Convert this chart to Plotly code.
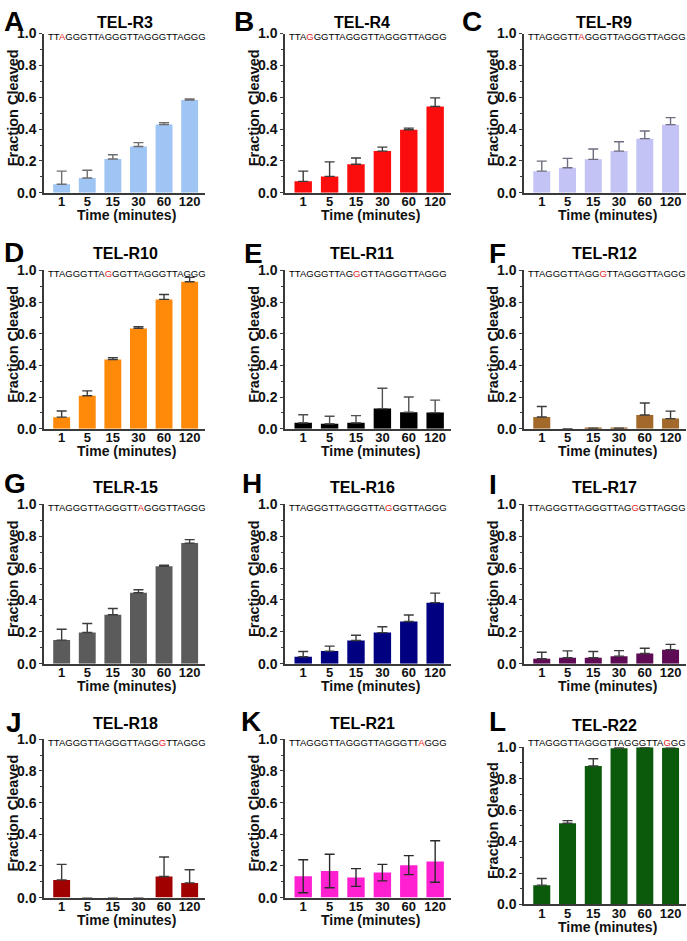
import plotly.graph_objects as go

# ---------------- data ----------------
times = ["1", "5", "15", "30", "60", "120"]
panel_letters = ["A", "B", "C", "D", "E", "F", "G", "H", "I", "J", "K", "L"]
titles = ["TEL-R3", "TEL-R4", "TEL-R9", "TEL-R10", "TEL-R11", "TEL-R12",
          "TELR-15", "TEL-R16", "TEL-R17", "TEL-R18", "TEL-R21", "TEL-R22"]
base_seq = "TTAGGGTTAGGGTTAGGGTTAGGG"
mutation_pos = [2, 3, 8, 9, 10, 11, 14, 15, 16, 17, 20, 21]
bar_colors = ["#9ec5f4", "#fb0d0d", "#c3c3f6", "#ff8a0a", "#000000", "#a2692b",
              "#5b5b5b", "#000080", "#5e0a55", "#a00000", "#ff20d2", "#0b5a0b"]
err_colors = ["#6e6e6e", "#3c3c3c", "#6e6e80", "#3c3c3c", "#505050", "#3c3c3c",
              "#3c3c3c", "#3c3c3c", "#3c3c3c", "#3c3c3c", "#2a2a2a", "#3c3c3c"]

r3_mean = [0.054, 0.093, 0.212, 0.291, 0.429, 0.583]
r3_err = [0.082, 0.049, 0.027, 0.024, 0.012, 0.006]
r4_mean = [0.072, 0.103, 0.179, 0.262, 0.396, 0.542]
r4_err = [0.064, 0.091, 0.040, 0.025, 0.010, 0.054]
r9_mean = [0.136, 0.157, 0.210, 0.262, 0.340, 0.428]
r9_err = [0.063, 0.059, 0.065, 0.059, 0.048, 0.044]
r10_mean = [0.073, 0.208, 0.437, 0.634, 0.817, 0.929]
r10_err = [0.039, 0.031, 0.012, 0.010, 0.031, 0.027]
r11_mean = [0.038, 0.031, 0.038, 0.127, 0.104, 0.102]
r11_err = [0.050, 0.048, 0.045, 0.129, 0.096, 0.079]
r12_mean = [0.074, 0.0, 0.003, 0.003, 0.087, 0.064]
r12_err = [0.066, None, None, None, 0.076, 0.047]
r15_mean = [0.148, 0.196, 0.307, 0.445, 0.612, 0.757]
r15_err = [0.068, 0.056, 0.039, 0.019, 0.007, 0.022]
r16_mean = [0.043, 0.079, 0.145, 0.195, 0.265, 0.383]
r16_err = [0.033, 0.031, 0.033, 0.037, 0.041, 0.060]
r17_mean = [0.031, 0.037, 0.037, 0.047, 0.064, 0.088]
r17_err = [0.041, 0.043, 0.039, 0.035, 0.033, 0.033]
r18_mean = [0.112, 0.0, 0.0, 0.0, 0.133, 0.093]
r18_err = [0.098, None, None, None, 0.124, 0.083]
r21_mean = [0.135, 0.168, 0.127, 0.158, 0.205, 0.228]
r21_err = [0.104, 0.106, 0.056, 0.052, 0.060, 0.131]
r22_mean = [0.123, 0.517, 0.881, 0.994, 1.0, 0.996]
r22_err = [0.042, 0.016, 0.046, 0.005, None, None]

means = [r3_mean, r4_mean, r9_mean, r10_mean, r11_mean, r12_mean,
         r15_mean, r16_mean, r17_mean, r18_mean, r21_mean, r22_mean]
errs = [r3_err, r4_err, r9_err, r10_err, r11_err, r12_err,
        r15_err, r16_err, r17_err, r18_err, r21_err, r22_err]
two_sided = [False] * 10 + [True, False]

# ---------------- layout geometry (pixels) ----------------
W, H = 687, 941
col_x = [(44, 205), (285, 451), (524, 686)]
row_y = [(26, 188), (267, 428), (505, 667), (744, 905)]
title_x = [125, 362, 604]
title_y = [15, 250, 488, 728]
letter_pos = [(2, 14), (232, 14), (460, 14), (2, 249), (242, 250), (487, 250),
              (2, 484), (240, 484), (487, 485), (4, 727), (239, 726), (487, 726)]

FONT = "Liberation Sans, Arial, Helvetica, sans-serif"
TXT = "#111111"
AX = "#3a3a3a"


def px(x):
    return x / W


def py(y):
    return 1 - y / H


fig = go.Figure()
annotations = []
layout_axes = {}

for i in range(12):
    r, c = divmod(i, 3)
    x0, x1 = col_x[c]
    y0, y1 = row_y[r]
    tx, ty = title_x[c], title_y[r]
    seq_dy = 3
    if i == 11:
        y0, y1 = 752, 912
        ty = 730
        seq_dy = -5
    ax_id = "" if i == 0 else str(i + 1)
    xa, ya = "x" + ax_id, "y" + ax_id

    err = errs[i]
    ed = dict(type="data", array=err, visible=True, color=err_colors[i],
              thickness=1.4, width=5)
    if two_sided[i]:
        ed["symmetric"] = True
    else:
        ed["symmetric"] = False
        ed["arrayminus"] = [0 if e is not None else None for e in err]

    fig.add_trace(go.Bar(
        x=times, y=means[i], xaxis=xa, yaxis=ya,
        marker=dict(color=bar_colors[i], line=dict(width=0)),
        width=0.66, error_y=ed, cliponaxis=False, showlegend=False,
    ))

    layout_axes["xaxis" + ax_id] = dict(
        domain=[px(x0), px(x1)], anchor=ya, type="category",
        range=[-0.69, 5.6], showline=True, linecolor=AX, linewidth=1.5,
        ticks="", ticklen=0, ticklabelstandoff=-4,
        showgrid=False, zeroline=False, fixedrange=True,
        tickfont=dict(family=FONT, size=13, color=TXT, weight="bold"),
    )
    layout_axes["yaxis" + ax_id] = dict(
        domain=[py(y1), py(y0)], anchor=xa, range=[0, 1.0],
        showline=True, linecolor=AX, linewidth=1.5, showgrid=False,
        zeroline=False, ticks="outside", ticklen=3, tickwidth=1.3, tickcolor=AX,
        tick0=0, dtick=0.2, tickformat=".1f", fixedrange=True,
        minor=dict(dtick=0.1, ticks="outside", ticklen=2, tickwidth=1, tickcolor=AX),
        tickfont=dict(family=FONT, size=14, color=TXT, weight="bold"),
    )

    # panel letter
    lx, ly = letter_pos[i]
    annotations.append(dict(
        text=panel_letters[i], x=px(lx), y=py(ly), xref="paper", yref="paper",
        xanchor="left", yanchor="middle", showarrow=False,
        font=dict(family=FONT, size=28, color="#000000", weight="bold"),
    ))
    # title
    annotations.append(dict(
        text=titles[i], x=px(tx), y=py(ty), xref="paper", yref="paper",
        xanchor="center", yanchor="middle", showarrow=False,
        font=dict(family=FONT, size=16, color="#000000", weight="bold"),
    ))
    # sequence with the mutated base in red
    m = mutation_pos[i]
    seq_html = (base_seq[:m] + "<span style='color:#e41e26'>" + base_seq[m]
                + "</span>" + base_seq[m + 1:])
    annotations.append(dict(
        text=seq_html, x=px(x0 + 2), y=py(y0 + seq_dy), xref="paper", yref="paper",
        xanchor="left", yanchor="middle", showarrow=False,
        font=dict(family=FONT, size=9.5, color="#000000"),
    ))
    # y axis title
    annotations.append(dict(
        text="Fraction Cleaved", x=px(x0 - 31), y=py((y0 + y1) / 2 - 5),
        xref="paper", yref="paper", xanchor="center", yanchor="middle",
        textangle=-90, showarrow=False,
        font=dict(family=FONT, size=14.5, color=TXT, weight="bold"),
    ))
    # x axis title
    annotations.append(dict(
        text="Time (minutes)", x=px((x0 + x1) / 2 + 2), y=py(y1 + 23),
        xref="paper", yref="paper", xanchor="center", yanchor="middle",
        showarrow=False,
        font=dict(family=FONT, size=14, color=TXT, weight="bold"),
    ))

fig.update_layout(
    width=W, height=H, margin=dict(l=0, r=0, t=0, b=0),
    paper_bgcolor="white", plot_bgcolor="white",
    font=dict(family=FONT, color=TXT),
    annotations=annotations, bargap=0.34, showlegend=False,
    **layout_axes,
)

fig.write_html("out.html", config={"displayModeBar": False})
